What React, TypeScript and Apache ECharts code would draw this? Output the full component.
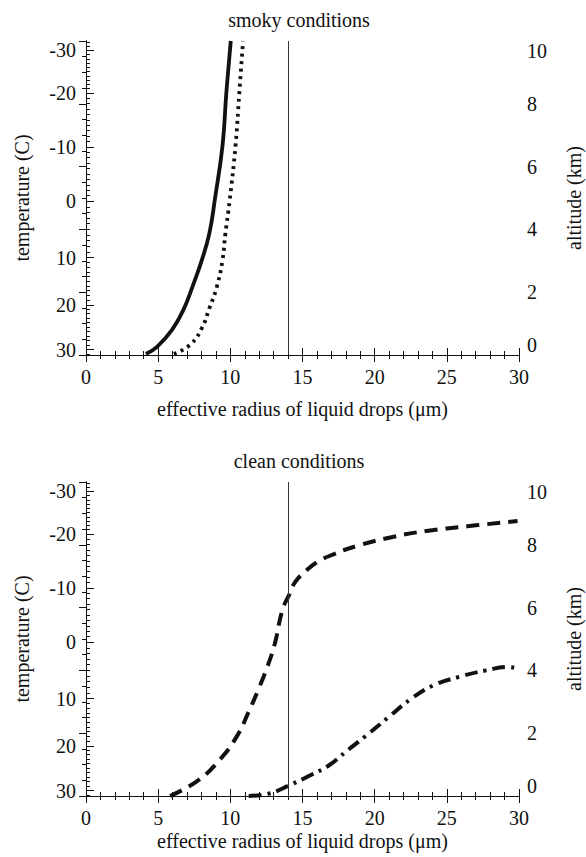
import React, { useEffect, useRef } from "react";
import * as echarts from "echarts";

// ---------- data ----------
const radiusAxisTicks = [0, 5, 10, 15, 20, 25, 30];
const altitudeTicks = [0, 2, 4, 6, 8, 10];
const tempTickLabels = [-30, -20, -10, 0, 10, 20, 30];
// altitude (km) at which each temperature tick sits
const tempTickAltitudes = [9.7, 8.35, 6.63, 4.9, 3.1, 1.6, 0.17];
const thresholdRadius = 14;

// smoky conditions
const smokySolidR = [4.15, 4.92, 5.96, 6.74, 7.38, 8.03, 8.55, 8.94, 9.46, 9.72, 10.03];
const smokySolidAlt = [0.03, 0.26, 0.8, 1.43, 2.18, 3.03, 3.88, 4.99, 6.67, 8.33, 10.0];
const smokyDottedR = [6.09, 7.25, 8.03, 8.55, 9.07, 9.46, 9.66, 9.95, 10.36, 10.62, 10.88];
const smokyDottedAlt = [0.03, 0.34, 0.86, 1.49, 2.18, 3.03, 3.88, 4.9, 6.67, 8.33, 10.0];

// clean conditions
const cleanDashedR = [5.83, 7.77, 9.33, 10.49, 11.27, 11.92, 12.56, 13.08, 13.6, 14.12, 14.5, 15.28, 16.06, 17.1, 18.9, 21.24, 23.57, 26.42, 29.9];
const cleanDashedAlt = [0, 0.5, 1.19, 1.93, 2.68, 3.37, 4.11, 4.85, 5.91, 6.45, 6.82, 7.19, 7.46, 7.69, 7.98, 8.25, 8.44, 8.59, 8.76];
const cleanDashDotR = [11.27, 12.69, 13.99, 15.54, 16.84, 18.13, 19.43, 20.98, 22.54, 24.1, 25.9, 27.72, 29.27, 29.9];
const cleanDashDotAlt = [0, 0.08, 0.32, 0.66, 0.98, 1.46, 1.93, 2.52, 3.1, 3.53, 3.8, 4.0, 4.11, 4.05];

const titles = ["smoky conditions", "clean conditions"];
const xName = "effective radius of liquid drops (\u03bcm)";
const leftName = "temperature (C)";
const rightName = "altitude (km)";

// ---------- helpers ----------
const FONT = "serif";
const INK = "#111";

function pairs(xs: number[], ys: number[]) {
  return xs.map((x, i) => [x, ys[i]]);
}

// minor temperature ticks every 1 degree, placed between the major tick positions
function minorTempAltitudes(): number[] {
  const out: number[] = [];
  const a = tempTickAltitudes;
  for (let i = 0; i < a.length - 1; i++) {
    for (let k = 1; k < 10; k++) out.push(a[i] + ((a[i + 1] - a[i]) * k) / 10);
  }
  const topStep = (a[0] - a[1]) / 10;
  for (let k = 1; a[0] + topStep * k <= 10; k++) out.push(a[0] + topStep * k);
  const botStep = (a[a.length - 2] - a[a.length - 1]) / 10;
  for (let k = 1; a[a.length - 1] - botStep * k >= 0; k++) out.push(a[a.length - 1] - botStep * k);
  return out;
}

function tempLabel(value: number): string {
  let best = 0;
  let bd = Infinity;
  tempTickAltitudes.forEach((v, i) => {
    const d = Math.abs(v - value);
    if (d < bd) {
      bd = d;
      best = i;
    }
  });
  return String(tempTickLabels[best]);
}

const GRID_LEFT = 86;
const GRID_W = 433;
const GRID_H = 314;
const GRID_TOPS = [41, 482];
const X_NAME_GAPS = [44, 35];

export default function App() {
  const ref = useRef<HTMLDivElement>(null);

  useEffect(() => {
    if (!ref.current) return;
    const chart = echarts.init(ref.current, undefined, { renderer: "svg" });
    const minor = minorTempAltitudes();
    const lineStyleAxis = { show: true, lineStyle: { color: INK, width: 1 } };
    const labelStyle = { fontSize: 20, fontFamily: FONT, color: INK };

    const grids: any[] = [];
    const xAxes: any[] = [];
    const yAxes: any[] = [];
    const series: any[] = [];
    const titleArr: any[] = [];

    GRID_TOPS.forEach((top, g) => {
      grids.push({
        left: GRID_LEFT,
        top,
        width: GRID_W,
        height: GRID_H,
        containLabel: false,
        outerBoundsMode: "none",
      });
      titleArr.push({
        text: titles[g],
        left: 299,
        top: top - 31,
        textAlign: "center",
        padding: 0,
        textStyle: { fontSize: 20, fontWeight: "normal", fontFamily: FONT, color: INK },
      });
      // bottom x axis
      xAxes.push({
        type: "value",
        gridIndex: g,
        position: "bottom",
        min: radiusAxisTicks[0],
        max: radiusAxisTicks[radiusAxisTicks.length - 1],
        interval: 5,
        axisLine: lineStyleAxis,
        axisTick: { show: true, inside: true, length: 7, lineStyle: { color: INK } },
        minorTick: { show: true, splitNumber: 5, length: 4, lineStyle: { color: INK } },
        axisLabel: { ...labelStyle, margin: 12 },
        splitLine: { show: false },
        name: xName,
        nameLocation: "middle",
        nameGap: X_NAME_GAPS[g],
        nameTextStyle: labelStyle,
      });
      // top x axis (ticks only)
      xAxes.push({
        type: "value",
        gridIndex: g,
        position: "top",
        min: radiusAxisTicks[0],
        max: radiusAxisTicks[radiusAxisTicks.length - 1],
        interval: 5,
        axisLine: lineStyleAxis,
        axisTick: { show: true, inside: true, length: 7, lineStyle: { color: INK } },
        minorTick: { show: true, splitNumber: 5, length: 4, lineStyle: { color: INK } },
        axisLabel: { show: false },
        splitLine: { show: false },
      });
      // right altitude axis
      yAxes.push({
        type: "value",
        gridIndex: g,
        position: "right",
        min: altitudeTicks[0],
        max: altitudeTicks[altitudeTicks.length - 1],
        interval: 2,
        axisLine: lineStyleAxis,
        axisTick: { show: true, inside: true, length: 7, lineStyle: { color: INK } },
        minorTick: { show: true, splitNumber: 4, length: 4, lineStyle: { color: INK } },
        axisLabel: {
          ...labelStyle,
          margin: 8,
          verticalAlignMinLabel: "bottom",
          verticalAlignMaxLabel: "top",
        },
        splitLine: { show: false },
        name: rightName,
        nameLocation: "middle",
        nameGap: 45,
        nameRotate: 90,
        nameTextStyle: labelStyle,
      });
      // left temperature axis, major ticks + labels
      yAxes.push({
        type: "value",
        gridIndex: g,
        position: "left",
        min: 0,
        max: 10,
        axisLine: lineStyleAxis,
        axisTick: { show: true, inside: true, length: 8, customValues: tempTickAltitudes, lineStyle: { color: INK } },
        axisLabel: { ...labelStyle, margin: 10, customValues: tempTickAltitudes, formatter: (v: number) => tempLabel(v) },
        splitLine: { show: false },
        name: leftName,
        nameLocation: "middle",
        nameGap: 54,
        nameRotate: 90,
        nameTextStyle: labelStyle,
      });
      // left temperature axis, minor ticks
      yAxes.push({
        type: "value",
        gridIndex: g,
        position: "left",
        min: 0,
        max: 10,
        axisLine: lineStyleAxis,
        axisTick: { show: true, inside: true, length: 4, customValues: minor, lineStyle: { color: INK } },
        axisLabel: { show: false },
        splitLine: { show: false },
      });
    });

    const common = {
      type: "line",
      showSymbol: false,
      symbol: "none",
      smooth: 0.45,
      animation: false,
      silent: true,
    };

    const vLine = {
      silent: true,
      symbol: ["none", "none"],
      label: { show: false },
      lineStyle: { color: "#333", width: 1, type: "solid" },
      data: [{ xAxis: thresholdRadius }],
    };

    series.push({
      ...common,
      name: "smoky solid",
      xAxisIndex: 0,
      yAxisIndex: 0,
      data: pairs(smokySolidR, smokySolidAlt),
      lineStyle: { color: INK, width: 3.8, type: "solid" },
      markLine: vLine,
    });
    series.push({
      ...common,
      name: "smoky dotted",
      xAxisIndex: 0,
      yAxisIndex: 0,
      data: pairs(smokyDottedR, smokyDottedAlt),
      lineStyle: { color: INK, width: 3.8, type: [3, 4.5] },
    });
    series.push({
      ...common,
      name: "clean dashed",
      xAxisIndex: 2,
      yAxisIndex: 4,
      data: pairs(cleanDashedR, cleanDashedAlt),
      lineStyle: { color: INK, width: 4, type: [13, 8] },
      markLine: vLine,
    });
    series.push({
      ...common,
      name: "clean dash-dot",
      xAxisIndex: 2,
      yAxisIndex: 4,
      data: pairs(cleanDashDotR, cleanDashDotAlt),
      lineStyle: { color: INK, width: 4, type: [13, 6, 3, 6] },
    });

    chart.setOption({
      animation: false,
      backgroundColor: "#ffffff",
      title: titleArr,
      grid: grids,
      xAxis: xAxes,
      yAxis: yAxes,
      series,
    });

    return () => {
      chart.dispose();
    };
  }, []);

  return (
    <div
      ref={ref}
      style={{ position: "absolute", left: 0, top: 0, width: 586, height: 857, background: "#fff" }}
    />
  );
}
